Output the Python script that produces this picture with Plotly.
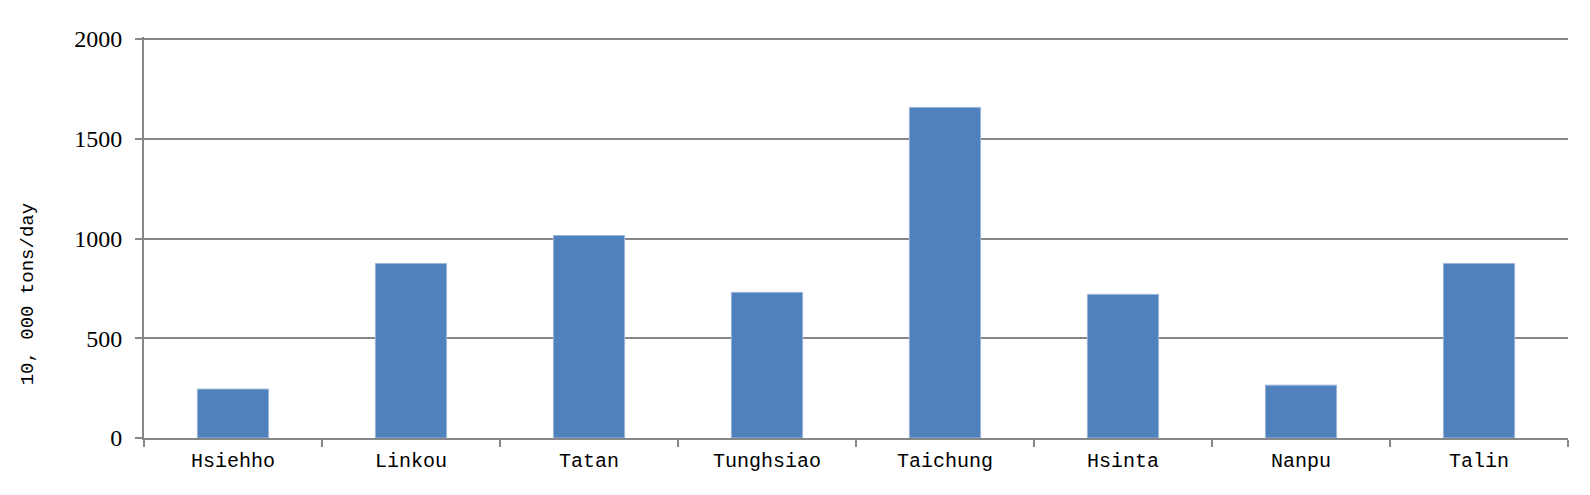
import plotly.graph_objects as go

categories = ["Hsiehho", "Linkou", "Tatan", "Tunghsiao", "Taichung", "Hsinta", "Nanpu", "Talin"]
values = [245, 875, 1015, 730, 1657, 720, 265, 875]
y_ticks = [0, 500, 1000, 1500, 2000]
y_title = "10, 000 tons/day"

fig = go.Figure(go.Bar(
    x=categories, y=values,
    marker=dict(color="#4F81BD", line=dict(color="#9db5da", width=1)),
    width=0.4,
))

axis_color = "#878787"
fig.update_layout(
    width=1574, height=479,
    margin=dict(l=136, r=14, t=29, b=49, autoexpand=False),
    plot_bgcolor="white", paper_bgcolor="white",
    showlegend=False,
    xaxis=dict(
        range=[-0.5, 7.5], tickson="boundaries", ticks="outside", ticklen=7,
        tickcolor=axis_color, tickwidth=1.5, showline=True, linecolor=axis_color, linewidth=2,
        showgrid=False, tickfont=dict(family="Liberation Mono", size=20, color="black"),
        ticklabelstandoff=3,
        automargin=False,
    ),
    yaxis=dict(
        range=[0, 2010], tickvals=y_ticks, ticks="outside", ticklen=7,
        tickcolor=axis_color, tickwidth=1.5, showline=True, linecolor=axis_color, linewidth=2,
        showgrid=True, gridcolor=axis_color, gridwidth=1.5, zeroline=False,
        tickfont=dict(family="Liberation Serif", size=24, color="black"),
        ticklabelstandoff=8,
        automargin=False,
    ),
    annotations=[dict(
        text=y_title, textangle=-90, showarrow=False,
        xref="paper", yref="paper", x=0, y=0.357, xshift=-116.5,
        xanchor="center", yanchor="middle",
        font=dict(family="Liberation Mono", size=19, color="black"),
    )],
)

fig.write_html("out.html")
